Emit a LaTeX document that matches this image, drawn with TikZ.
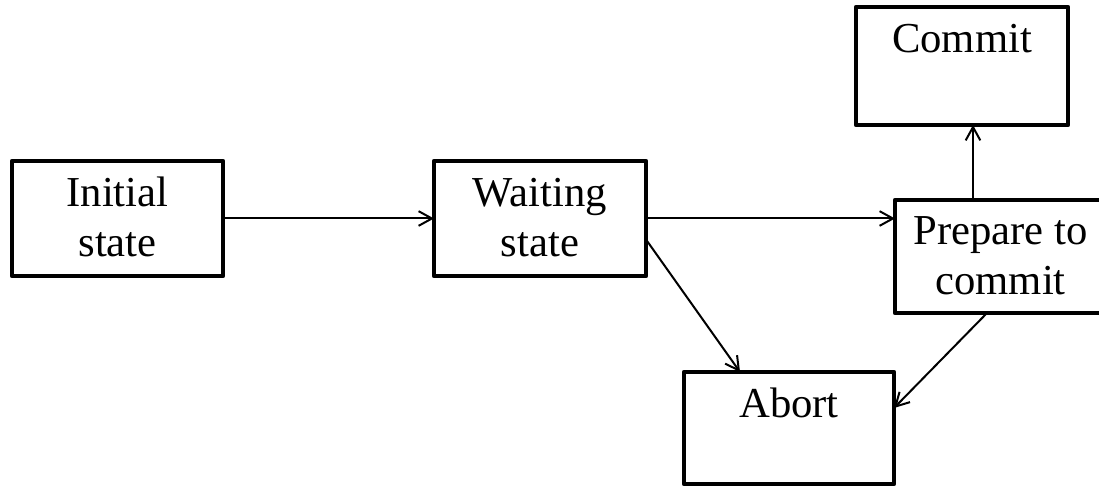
\documentclass[tikz,border=0pt]{standalone}
\usepackage{fontspec}
\setmainfont{Liberation Serif}
\usetikzlibrary{arrows.meta}
\begin{document}
\begin{tikzpicture}[x=0.75pt,y=-0.75pt,
  box/.style={draw,line width=3.6pt,line join=round,inner sep=0pt,outer sep=0pt},
  lbl/.style={font=\fontsize{32}{37.5}\selectfont,align=center,anchor=base,inner sep=0pt},
  arr/.style={line width=1.5pt,-{Straight Barb[length=10pt,width=11pt,line width=1.5pt]}}]
\useasboundingbox (0,0) rectangle (1099,488);
\clip (0,0) rectangle (1099,488);
\node[box,minimum width=211*0.75pt,minimum height=115*0.75pt] (init) at (117.5,218.5) {};
\node[box,minimum width=212*0.75pt,minimum height=115*0.75pt] (wait) at (540,218.5) {};
\node[box,minimum width=212*0.75pt,minimum height=118*0.75pt] (commit) at (962,66) {};
\node[box,minimum width=211*0.75pt,minimum height=113*0.75pt] (prep) at (1000.5,256.5) {};
\node[box,minimum width=210*0.75pt,minimum height=112*0.75pt] (abort) at (789,428) {};
\node[lbl] (initT) at ([yshift=-96*0.75pt]init.north) {Initial\\state};
\node[lbl] (waitT) at ([yshift=-96*0.75pt]wait.north) {Waiting\\state};
\node[lbl] (commitT) at ([yshift=-46*0.75pt]commit.north) {Commit};
\node[lbl] (prepT) at ([yshift=-95*0.75pt]prep.north) {Prepare to\\commit};
\node[lbl] (abortT) at ([yshift=-45*0.75pt]abort.north) {Abort};
\coordinate (pc) at ([xshift=78*0.75pt]prep.north west);
\coordinate (wa) at ([yshift=-21*0.75pt]wait.east);
\coordinate (at) at ([xshift=56*0.75pt]abort.north west);
\coordinate (pa) at ([xshift=92*0.75pt]prep.south west);
\coordinate (ae) at ([yshift=20*0.75pt]abort.east);
\draw[arr] (init.east) -- (wait.west);
\draw[arr] (wait.east) -- (wait.east -| prep.west);
\draw[arr] (pc) -- (pc |- commit.south);
\draw[arr] (wa) -- (at);
\draw[arr] (pa) -- (ae);
\end{tikzpicture}
\end{document}
